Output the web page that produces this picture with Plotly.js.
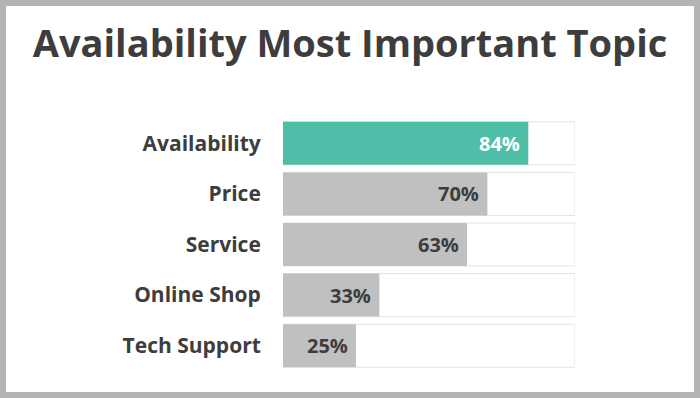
<!DOCTYPE html>
<html>
<head>
<meta charset="utf-8">
<script src="https://cdn.plot.ly/plotly-3.0.1.min.js"></script>
<style>
html,body{margin:0;padding:0;background:#fff;}
#wrap{position:relative;width:700px;height:398px;}
#chart{width:700px;height:398px;}
#frame{position:absolute;left:0;top:0;width:700px;height:398px;box-sizing:border-box;border:6px solid #b4b4b4;pointer-events:none;}
</style>
</head>
<body>
<div id="wrap"><div id="chart"></div><div id="frame"></div></div>
<script>
const categories = ["Availability", "Price", "Service", "Online Shop", "Tech Support"];
const values = [84, 70, 63, 33, 25];
const barColors = ["#4fbea8", "#c0c0c0", "#c0c0c0", "#c0c0c0", "#c0c0c0"];
const labelColors = ["#ffffff", "#3d3d3d", "#3d3d3d", "#3d3d3d", "#3d3d3d"];
const fullScale = 100;

const font = "Open Sans, sans-serif";

const bgTrace = {
  type: "bar", orientation: "h",
  y: categories, x: categories.map(() => fullScale),
  marker: {color: "#ffffff", line: {color: "#e3e3e3", width: 1}},
  hoverinfo: "skip", showlegend: false
};
const valTrace = {
  type: "bar", orientation: "h",
  y: categories, x: values,
  marker: {color: barColors, line: {width: 0}},
  hoverinfo: "skip", showlegend: false
};

const annotations = categories.map((c, i) => ({
  x: values[i], y: c, xref: "x", yref: "y",
  text: values[i] + "%", showarrow: false,
  xanchor: "right", yanchor: "middle", xshift: -6,
  font: {family: font, size: 20, color: labelColors[i], weight: 700}
}));

const layout = {
  width: 700, height: 398,
  margin: {l: 283, r: 125, t: 118, b: 27, pad: 0},
  paper_bgcolor: "#ffffff", plot_bgcolor: "#ffffff",
  barmode: "overlay", bargap: 0.15,
  title: {text: "Availability Most Important Topic", x: 0.5, xanchor: "center", y: 0.89, yanchor: "middle",
    font: {family: font, size: 38, color: "#3d3d3d", weight: 700}},
  xaxis: {range: [0, fullScale], visible: false, fixedrange: true},
  yaxis: {autorange: "reversed", showgrid: false, zeroline: false, showline: false,
    ticks: "outside", ticklen: 17, tickcolor: "rgba(0,0,0,0)",
    tickfont: {family: font, size: 21, color: "#3d3d3d", weight: 700}},
  annotations: annotations
};

Plotly.newPlot("chart", [bgTrace, valTrace], layout, {displayModeBar: false, staticPlot: true});
</script>
</body>
</html>
